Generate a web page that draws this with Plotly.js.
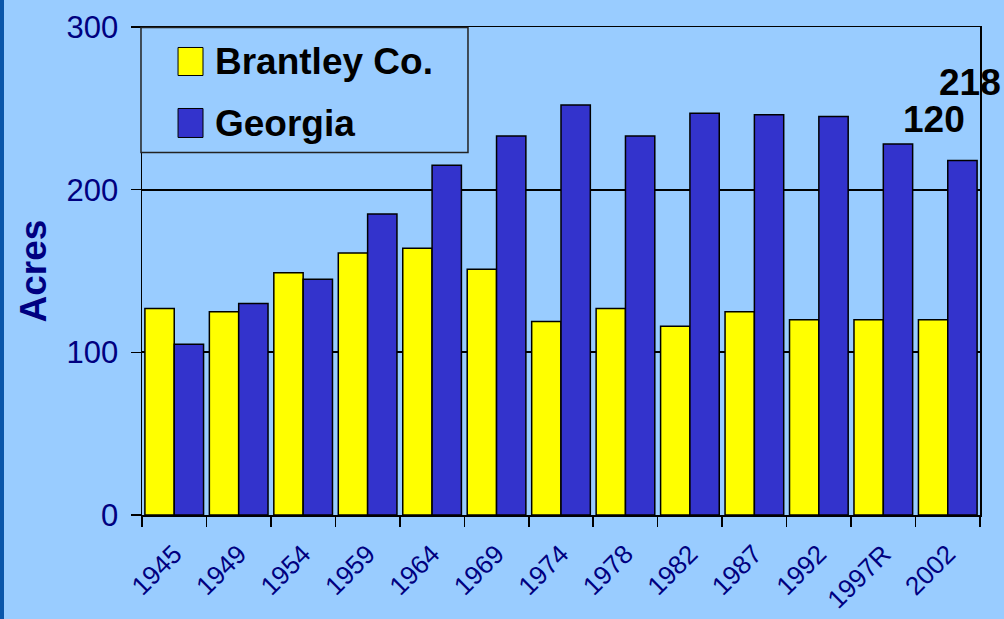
<!DOCTYPE html>
<html>
<head>
<meta charset="utf-8">
<script src="https://cdn.plot.ly/plotly-3.0.1.min.js"></script>
<style>
html,body{margin:0;padding:0;background:#0A56AA;width:1004px;height:619px;overflow:hidden;}
#chart{position:absolute;left:4px;top:0;width:1000px;height:619px;}
</style>
</head>
<body>
<div id="chart"></div>
<script>
// Data
const years = ["1945","1949","1954","1959","1964","1969","1974","1978","1982","1987","1992","1997R","2002"];
const brantley = [127,125,149,161,164,151,119,127,116,125,120,120,120];
const georgia  = [105,130,145,185,215,233,252,233,247,246,245,228,218];
const seriesNames = ["Brantley Co.","Georgia"];
const seriesColors = ["#FFFF00","#3333CC"];
const noteLabels = ["120","218"];

const FONT = '"Liberation Sans", Arial, sans-serif';
const NAVY = '#000080';

const traces = [
  {type:'bar', name:seriesNames[0], x:years, y:brantley,
   marker:{color:seriesColors[0], line:{color:'#000', width:1.5}}, hoverinfo:'x+y'},
  {type:'bar', name:seriesNames[1], x:years, y:georgia,
   marker:{color:seriesColors[1], line:{color:'#000', width:1.5}}, hoverinfo:'x+y'}
];

// plot area pixel geometry (within the 1000px div)
const L = 138, R = 24, T = 27, B = 104;

const layout = {
  width:1000, height:619,
  margin:{l:L, r:R, t:T, b:B, pad:0},
  paper_bgcolor:'#99CCFF', plot_bgcolor:'#99CCFF',
  font:{family:FONT, color:NAVY},
  showlegend:false,
  barmode:'group', bargap:0.09, bargroupgap:0,
  xaxis:{
    type:'category', tickson:'boundaries', ticks:'outside', ticklen:10, tickwidth:1.5, tickcolor:'#000',
    showline:true, linecolor:'#000', linewidth:1.5, mirror:true,
    showgrid:false, tickangle:-45, ticklabelstandoff:12,
    tickfont:{family:FONT, size:26, color:NAVY}
  },
  yaxis:{
    range:[0,300], tickvals:[0,100,200,300], ticks:'outside', ticklen:10, tickwidth:1.5, tickcolor:'#000',
    showline:true, linecolor:'#000', linewidth:1.5, mirror:true,
    showgrid:true, gridcolor:'#000', gridwidth:1.8, zeroline:false,
    ticklabelstandoff:6,
    tickfont:{family:FONT, size:31, color:NAVY},
    title:{text:'<b>Acres</b>', font:{family:FONT, size:37, color:NAVY}, standoff:8}
  },
  shapes:[
    // custom legend box
    {type:'rect', xref:'paper', yref:'paper', x0:-0.0012, x1:0.389, y0:0.743, y1:0.999,
     line:{color:'#222', width:1.5}, fillcolor:'#99CCFF', layer:'above'},
    {type:'rect', xref:'paper', yref:'paper', x0:0.043, x1:0.0728, y0:0.9006, y1:0.958,
     line:{color:'#000', width:1}, fillcolor:seriesColors[0], layer:'above'},
    {type:'rect', xref:'paper', yref:'paper', x0:0.043, x1:0.0728, y0:0.7736, y1:0.833,
     line:{color:'#000', width:1}, fillcolor:seriesColors[1], layer:'above'}
  ],
  annotations:[
    {xref:'paper', yref:'paper', x:0.085, y:0.929, xanchor:'left', yanchor:'middle', showarrow:false,
     text:'<b>'+seriesNames[0]+'</b>', font:{family:FONT, size:37, color:'#000'}},
    {xref:'paper', yref:'paper', x:0.085, y:0.803, xanchor:'left', yanchor:'middle', showarrow:false,
     text:'<b>'+seriesNames[1]+'</b>', font:{family:FONT, size:37, color:'#000'}},
    {xref:'paper', yref:'paper', x:0.9457, y:0.8105, xanchor:'center', yanchor:'middle', showarrow:false,
     text:'<b>'+noteLabels[0]+'</b>', font:{family:FONT, size:37, color:'#000'}},
    {xref:'paper', yref:'paper', x:0.988, y:0.887, xanchor:'center', yanchor:'middle', showarrow:false,
     text:'<b>'+noteLabels[1]+'</b>', font:{family:FONT, size:37, color:'#000'}}
  ]
};

Plotly.newPlot('chart', traces, layout, {staticPlot:true, displayModeBar:false});
</script>
</body>
</html>
